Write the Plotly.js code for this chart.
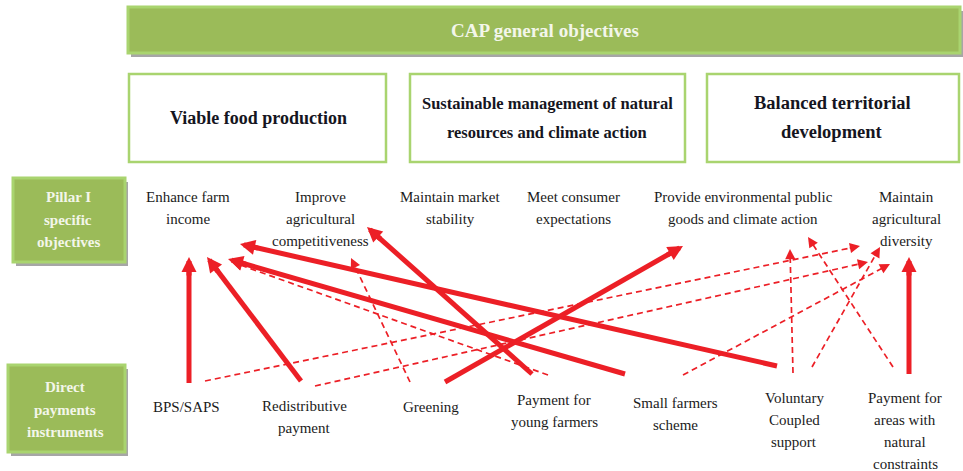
<!DOCTYPE html>
<html>
<head>
<meta charset="utf-8">
<script src="https://cdn.plot.ly/plotly-3.0.1.min.js"></script>
<style>html,body{margin:0;padding:0;background:#fff;}#chart{width:963px;height:471px;}</style>
</head>
<body>
<div id="chart"></div>
<script>
// ---------------- DATA ----------------
const mainTitle = "CAP general objectives";
const generalObjectives = ["Viable food production", "Sustainable management of natural|resources and climate action", "Balanced territorial|development"];
const rowLabels = ["Pillar I|specific|objectives", "Direct|payments|instruments"];
const objectives = ["Enhance farm|income", "Improve|agricultural|competitiveness", "Maintain market|stability", "Meet consumer|expectations", "Provide environmental public|goods and climate action", "Maintain|agricultural|diversity"];
const instruments = ["BPS/SAPS", "Redistributive|payment", "Greening", "Payment for|young farmers", "Small farmers|scheme", "Voluntary|Coupled|support", "Payment for|areas with|natural|constraints"];
// links: instrument index -> objective index, strong (solid) or weak (dashed)
const linkFrom = [0, 1, 2, 3, 4, 5, 6, 0, 1, 2, 3, 4, 5, 5, 6];
const linkTo   = [0, 0, 4, 1, 0, 0, 5, 5, 5, 1, 0, 5, 4, 5, 4];
const linkType = ["strong","strong","strong","strong","strong","strong","strong","weak","weak","weak","weak","weak","weak","weak","weak"];

// ---------------- LAYOUT GEOMETRY (pixel space) ----------------
const W = 963, H = 471;
const objCenterX = [188, 320, 450, 573, 743, 906];
const objTopY = 197;
const instCenterX = [186, 304, 431, 554, 675, 794, 905];
const instTopY = [407, 406, 407, 400, 403, 398, 398];
const lineGap = 22;
// arrow tail (instrument side) and head (objective side) per link
const arrowTail = [[189,383],[301,381],[445,382],[532,374],[625,374],[777,366],[909,374],
                   [205,381],[315,386],[410,382],[548,375],[683,375],[793,373],[812,367],[893,367]];
const arrowHead = [[189,257],[207,257],[683,246],[367,227],[228,259],[240,244],[909,257],
                   [860,246],[868,262],[351,258],[232,262],[890,264],[790,249],[880,247],[808,237]];

const RED = '#ec1f26';
const GREEN = '#9bbb59';
const GREEN_LIGHT = '#a9d46f';
const SHADOW = '#a6a6a6';
const serif = 'Liberation Serif, Times New Roman, serif';

const shapes = [];
const annotations = [];

function greenBox(x0, y0, x1, y1) {
  shapes.push({type:'rect', xref:'x', yref:'y', x0:x0+3, y0:y0+4, x1:x1+3, y1:y1+4, fillcolor:SHADOW, line:{width:0}, layer:'below'});
  shapes.push({type:'rect', xref:'x', yref:'y', x0:x0, y0:y0, x1:x1, y1:y1, fillcolor:GREEN, line:{color:GREEN_LIGHT, width:3}, layer:'below'});
}
function whiteBox(x0, y0, x1, y1) {
  shapes.push({type:'rect', xref:'x', yref:'y', x0:x0, y0:y0, x1:x1, y1:y1, fillcolor:'#ffffff', line:{color:GREEN_LIGHT, width:2.5}, layer:'below'});
}
function textLines(label, cx, y0, gap, font) {
  const lines = label.split('|');
  lines.forEach((ln, i) => {
    annotations.push({x:cx, y:y0 + i*gap, xref:'x', yref:'y', text:ln, showarrow:false, font:font, xanchor:'center', yanchor:'middle'});
  });
}

// top bar
greenBox(128, 7, 960, 53);
textLines(mainTitle, 545, 30, 0, {family:serif, size:19, color:'#f3f6ea', weight:700});

// general objective boxes
const genBoxes = [[129,74,386,162],[410,74,685,162],[707,74,959,162]];
const genCX = [258, 547, 832];
const genSize = [18, 16.5, 18.5];
generalObjectives.forEach((g, i) => {
  const b = genBoxes[i];
  whiteBox(b[0], b[1], b[2], b[3]);
  const n = g.split('|').length;
  const y0 = n === 1 ? 118 : 103;
  textLines(g, genCX[i], y0, 29, {family:serif, size:genSize[i], color:'#151521', weight:700});
});

// row label boxes
greenBox(13, 178, 125, 262);
greenBox(8, 365, 125, 452);
textLines(rowLabels[0], 68, 197, 22.5, {family:serif, size:15, color:'#f3f6ea', weight:700});
textLines(rowLabels[1], 65, 387, 22.5, {family:serif, size:15, color:'#f3f6ea', weight:700});

// objectives and instruments text
objectives.forEach((o, i) => textLines(o, objCenterX[i], objTopY, lineGap, {family:serif, size:15, color:'#1b1b1b'}));
instruments.forEach((o, i) => textLines(o, instCenterX[i], instTopY[i], lineGap, {family:serif, size:15, color:'#1b1b1b'}));

// arrows
const traces = [];
linkFrom.forEach((f, k) => {
  const strong = linkType[k] === 'strong';
  const t = arrowTail[k], h = arrowHead[k];
  const dx = h[0]-t[0], dy = h[1]-t[1];
  const len = Math.sqrt(dx*dx + dy*dy);
  const ux = dx/len, uy = dy/len;
  const cut = strong ? 8 : 4;
  traces.push({
    type:'scatter', mode:'lines', hoverinfo:'skip',
    x:[t[0], h[0]-ux*cut], y:[t[1], h[1]-uy*cut],
    line:{color:RED, width: strong ? 5 : 1.7, dash: strong ? 'solid' : '6px,4px'},
    name: instruments[f].replace(/\|/g,' ') + ' → ' + objectives[linkTo[k]].replace(/\|/g,' ')
  });
  const L = strong ? 20 : 12;
  annotations.push({
    x:h[0], y:h[1], xref:'x', yref:'y', text:'', showarrow:true,
    ax:-ux*L, ay:-uy*L, axref:'pixel', ayref:'pixel',
    arrowhead:2, arrowcolor:RED, arrowwidth: strong ? 5 : 1.7,
    arrowsize: strong ? 0.6 : 1.2, standoff:0, startstandoff:0
  });
});

const layout = {
  width:W, height:H,
  margin:{l:0, r:0, t:0, b:0, pad:0},
  paper_bgcolor:'#ffffff', plot_bgcolor:'#ffffff',
  showlegend:false,
  xaxis:{range:[0,W], visible:false, fixedrange:true},
  yaxis:{range:[H,0], visible:false, fixedrange:true},
  shapes:shapes,
  annotations:annotations
};
Plotly.newPlot('chart', traces, layout, {displayModeBar:false, staticPlot:true});
</script>
</body>
</html>
